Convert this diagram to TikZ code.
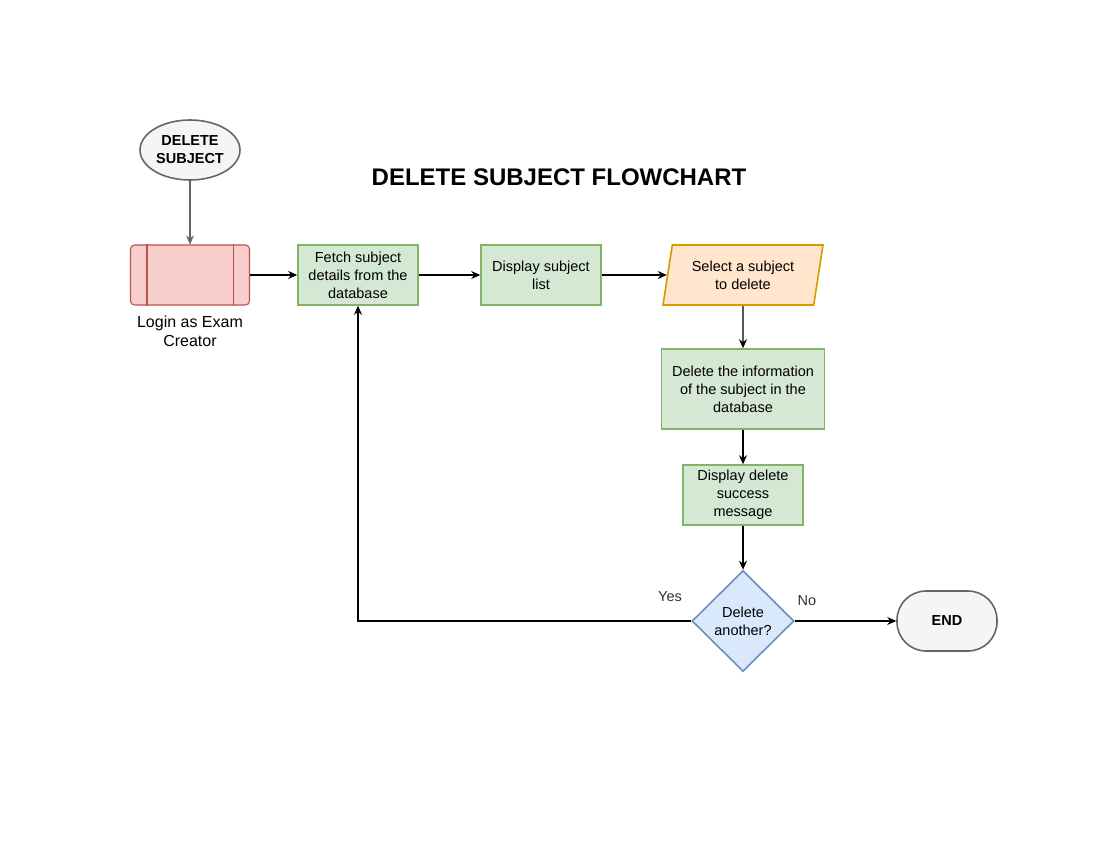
\documentclass[tikz,border=0pt]{standalone}
\usepackage{fontspec}
\setmainfont{Liberation Sans}
\usetikzlibrary{shapes.geometric}
\usetikzlibrary{arrows.meta}
\definecolor{TermFill}{HTML}{F5F5F5}
\definecolor{TermLine}{HTML}{666666}
\definecolor{LoginFill}{HTML}{F8CECC}
\definecolor{LoginLine}{HTML}{B85450}
\definecolor{ProcFill}{HTML}{D5E8D4}
\definecolor{ProcLine}{HTML}{82B366}
\definecolor{InputFill}{HTML}{FFE6CC}
\definecolor{InputLine}{HTML}{D79B00}
\definecolor{DecideFill}{HTML}{DAE8FC}
\definecolor{DecideLine}{HTML}{6C8EBF}
\definecolor{LabelGray}{HTML}{333333}
\tikzstyle{terminal} = [draw=TermLine, fill=TermFill, line width=1.6pt, minimum width=100pt, minimum height=60pt, inner sep=0pt, align=center, font=\fontsize{14.5}{18}\selectfont\bfseries]
\tikzstyle{process} = [rectangle, draw=ProcLine, fill=ProcFill, line width=1.6pt, minimum width=120pt, minimum height=60pt, inner sep=0pt, align=center, font=\fontsize{14.5}{18}\selectfont]
\tikzstyle{inputbox} = [trapezium, trapezium left angle=72, trapezium right angle=108, trapezium stretches body, draw=InputLine, fill=InputFill, line width=1.6pt, minimum width=160pt, minimum height=60pt, inner sep=0pt, align=center, font=\fontsize{14.5}{18}\selectfont]
\tikzstyle{decide} = [diamond, draw=DecideLine, fill=DecideFill, line width=1.6pt, minimum width=102pt, minimum height=101pt, inner sep=0pt, align=center, font=\fontsize{14.5}{18}\selectfont]
\tikzstyle{flow} = [->, line width=1.2pt]
\tikzstyle{branch} = [text=LabelGray, font=\fontsize{14.5}{18}\selectfont]

\begin{document}
\begin{tikzpicture}[x=1pt, y=-1pt, >={Stealth[length=9pt,width=8pt]}]
	\useasboundingbox[fill=white] (0,0) rectangle (1100,850);

	% Title
	\node (title) at (559,177) {\fontsize{24}{28}\selectfont\bfseries DELETE SUBJECT FLOWCHART};

	% Start and login
	\node[terminal, ellipse] (start) at (190,150) {DELETE\\SUBJECT};
	\node[rectangle, rounded corners=4pt, draw=LoginLine, fill=LoginFill, line width=1.1pt,
		minimum width=119pt, minimum height=60pt] (login) at (190,275) {};
	\draw[LoginLine, line width=1.1pt] ([xshift=17pt]login.north west) -- ([xshift=17pt]login.south west);
	\draw[LoginLine, line width=1.1pt] ([xshift=-17pt]login.north east) -- ([xshift=-17pt]login.south east);
	\node[align=center, font=\fontsize{16}{19}\selectfont] (loginlbl) at (190,331) {Login as Exam\\Creator};

	% Main steps
	\node[process] (fetch) at (358,275) {Fetch subject\\details from the\\database};
	\node[process] (showlist) at (541,275) {Display subject\\list};
	\node[inputbox] (select) at (743,275) {Select a subject\\to delete};
	\node[process, minimum width=163pt, minimum height=80pt] (remove) at (743,389) {Delete the information\\of the subject in the\\database};
	\node[process] (success) at (743,495) {Display delete\\success\\message};
	\node[decide] (again) at (743,621) {Delete\\another?};
	\node[terminal, rectangle, rounded corners=29pt] (finish) at (947,621) {END};

	% Connectors
	\draw[flow, TermLine] (start) -- (login);
	\draw[flow] (login) -- (fetch);
	\draw[flow] (fetch) -- (showlist);
	\draw[flow] (showlist) -- (select.left side);
	\draw[flow] (select) -- (remove);
	\draw[flow] (remove) -- (success);
	\draw[flow] (success) -- (again);
	\draw[flow] (again) -- (finish);
	\draw[flow] (again.west) -| (fetch.south);

	% Branch labels
	\node[branch] (yes) at (670,597) {Yes};
	\node[branch] (no) at (807,601) {No};
\end{tikzpicture}
\end{document}
